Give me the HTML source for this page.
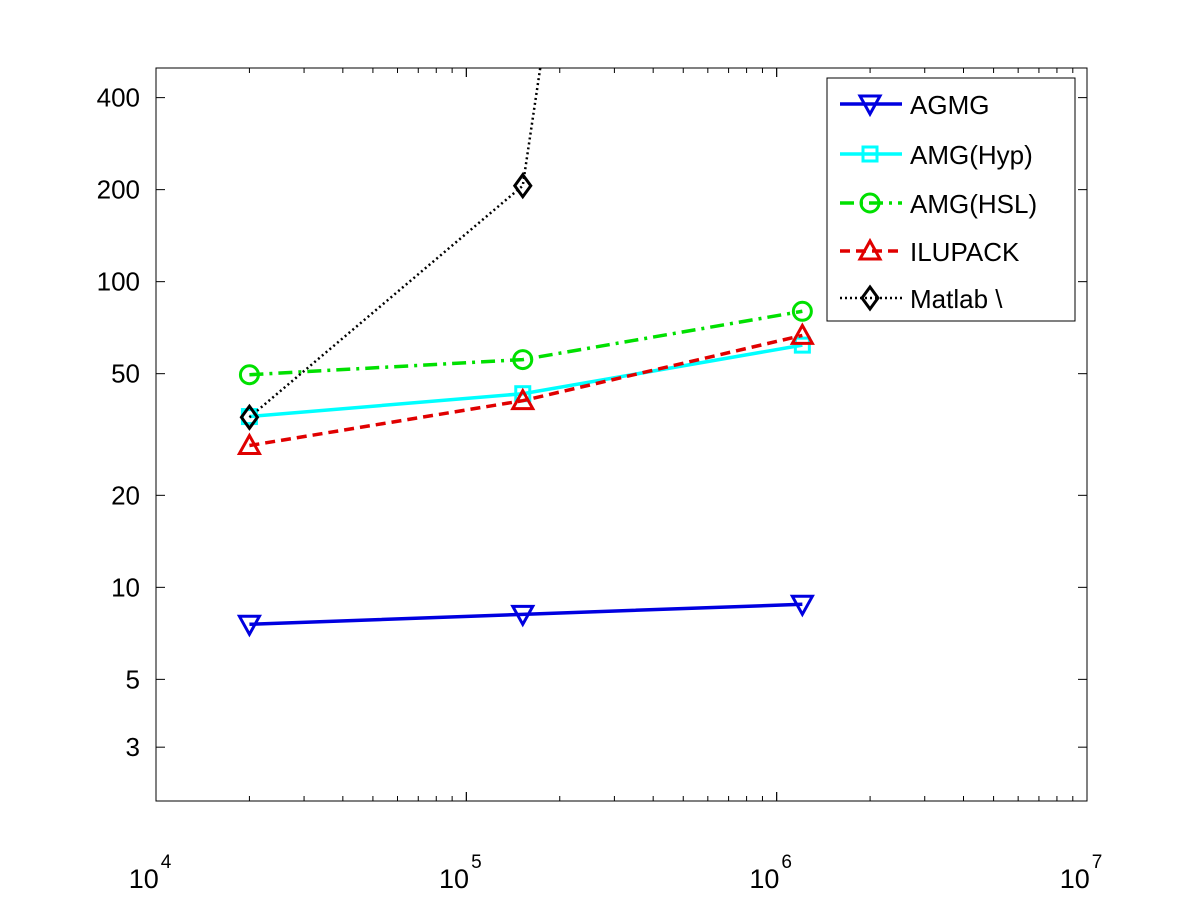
<!DOCTYPE html>
<html><head><meta charset="utf-8"><style>
html,body{margin:0;padding:0;background:#fff;}
svg{display:block;font-family:"Liberation Sans",sans-serif;}
</style></head><body>
<svg id="chart" width="1200" height="901" xmlns="http://www.w3.org/2000/svg">
<rect x="0" y="0" width="1200" height="901" fill="#fff"/>
<g id="plot"></g>
</svg>
<script>
const xValues = [2e4, 1.52e5, 1.21e6];
const seriesNames = ["AGMG", "AMG(Hyp)", "AMG(HSL)", "ILUPACK", "Matlab \\"];
const agmg = [7.57, 8.16, 8.8];
const amgHyp = [36.2, 43, 62];
const amgHsl = [49.6, 55.6, 80];
const ilupack = [29.1, 40.8, 66.7];
const matlab = [36, 206, 3e8];
const yTicks = [3, 5, 10, 20, 50, 100, 200, 400];
const xTickExps = [4, 5, 6, 7];

const L=156,R=1087,T=68,B=801;
const xMin=4,xMax=7,yMin=Math.log10(2),yMax=Math.log10(500);
const X=v=>L+(Math.log10(v)-xMin)/(xMax-xMin)*(R-L);
const Y=v=>B-(Math.log10(v)-yMin)/(yMax-yMin)*(B-T);
const NS="http://www.w3.org/2000/svg";
const svg=document.getElementById('chart');
function mk(tag,attrs,parent){const e=document.createElementNS(NS,tag);for(const k in attrs)e.setAttribute(k,attrs[k]);(parent||svg).appendChild(e);return e;}

const defs=mk('defs',{});
const cp=mk('clipPath',{id:'clip'},defs);
mk('rect',{x:L,y:T,width:R-L,height:B-T},cp);

const box=mk('rect',{x:L,y:T,width:R-L,height:B-T,fill:'none',stroke:'#000','stroke-width':1});



for(let e=4;e<7;e++){for(let m=1;m<=10;m++){const v=m*Math.pow(10,e);const x=X(v);const len=(m===1||m===10)?9:5;
mk('line',{x1:x,y1:B,x2:x,y2:B-len,stroke:'#000'});mk('line',{x1:x,y1:T,x2:x,y2:T+len,stroke:'#000'});}}
xTickExps.forEach(e=>{const x=X(Math.pow(10,e));
const t=mk('text',{x:x-6,y:888,'font-size':27,'text-anchor':'middle'});


t.textContent='10';
const s=mk('tspan',{dx:2,dy:-20,'font-size':19},t);s.textContent=String(e);});

yTicks.forEach(v=>{const y=Y(v);
mk('line',{x1:L,y1:y,x2:L+9,y2:y,stroke:'#000'});mk('line',{x1:R,y1:y,x2:R-9,y2:y,stroke:'#000'});
const t=mk('text',{x:140,y:y+9,'font-size':26,'text-anchor':'end'});


t.textContent=String(v);});

const styles=[
 {data:agmg,color:'#0000e0',dash:'',marker:'tridown'},
 {data:amgHyp,color:'#00ffff',dash:'',marker:'square'},
 {data:amgHsl,color:'#00e000',dash:'14 6 3 6',marker:'circle'},
 {data:ilupack,color:'#e00000',dash:'10 6',marker:'triup'},
 {data:matlab,color:'#000',dash:'2 3',marker:'diamond'}
];
function marker(type,x,y,color,parent){
 const a={fill:'none',stroke:color,'stroke-width':3};let e;
 if(type==='tridown')e=mk('polygon',Object.assign({points:`${x-10},${y-8} ${x+10},${y-8} ${x},${y+10}`},a),parent);
 else if(type==='triup')e=mk('polygon',Object.assign({points:`${x-10},${y+8} ${x+10},${y+8} ${x},${y-10}`},a),parent);
 else if(type==='square')e=mk('rect',Object.assign({x:x-7,y:y-7,width:14,height:14},a),parent);
 else if(type==='circle')e=mk('circle',Object.assign({cx:x,cy:y,r:9},a),parent);
 else e=mk('polygon',Object.assign({points:`${x},${y-11} ${x+8},${y} ${x},${y+11} ${x-8},${y}`},a),parent);
 
 
}
const g=mk('g',{'clip-path':'url(#clip)'});
styles.forEach((s,i)=>{
 const pts=s.data.map((v,j)=>X(xValues[j])+','+Y(v)).join(' ');
 const pl=mk('polyline',{points:pts,fill:'none',stroke:s.color,'stroke-width':s.marker==='diamond'?2.5:3.5,'stroke-dasharray':s.dash},g);
 
 
 s.data.forEach((v,j)=>{const y=Y(v);if(y>=T-20&&y<=B)marker(s.marker,X(xValues[j]),y,s.color,g);});
});

const lg=mk('g',{});


mk('rect',{x:827,y:78,width:248,height:243,fill:'#fff',stroke:'#000'},lg);
const ly=[104,154,203,251,298];
styles.forEach((s,i)=>{
 const y=ly[i];
 const ln=mk('line',{x1:840,y1:y,x2:902,y2:y,stroke:s.color,'stroke-width':s.marker==='diamond'?2.5:3.5,'stroke-dasharray':s.dash},lg);
 
 
 marker(s.marker,870,y,s.color,lg);
 const t=mk('text',{x:910,y:y+10,'font-size':26},lg);
 
 
 t.textContent=seriesNames[i];
});
</script>
</body></html>
